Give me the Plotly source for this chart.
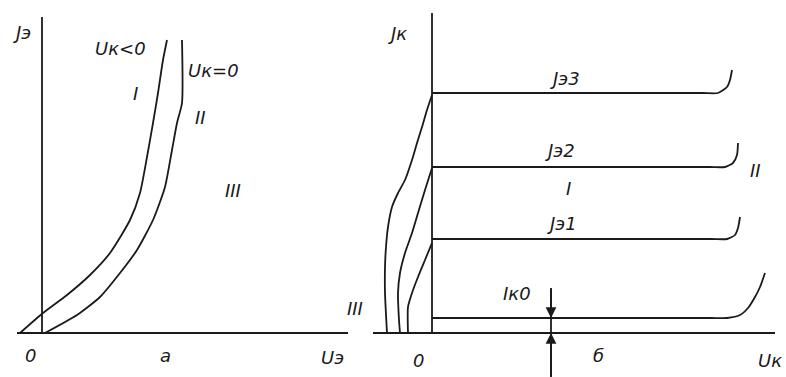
import plotly.graph_objects as go

# ---- Input characteristics Jэ(Uэ), common base ----
ue_uk_neg = [-2.2, 0.1, 2.5, 4.8, 6.8, 8.8, 9.8, 10.5, 11.1, 11.6, 12.1, 12.5]
je_uk_neg = [0.0, 2.0, 3.8, 5.8, 8.0, 11.3, 14.0, 17.6, 21.0, 24.0, 27.3, 29.3]
ue_uk_zero = [0.3, 3.5, 5.8, 7.8, 9.5, 11.1, 12.3, 13.0, 13.5, 14.0, 14.0]
je_uk_zero = [0.0, 1.8, 3.6, 6.0, 8.3, 11.3, 14.6, 18.3, 21.0, 23.0, 29.3]

# ---- Output characteristics Jк(Uк) ----
# active region: flat part from Uк = 0, then breakdown bend
uk_je3 = [0.0, 27.0, 28.6, 29.5, 29.8, 30.0]
jk_je3 = [24.0, 24.0, 24.0, 24.6, 25.3, 26.3]
uk_je2 = [0.0, 27.7, 29.3, 30.1, 30.5, 30.6]
jk_je2 = [16.6, 16.6, 16.6, 17.0, 17.8, 19.0]
uk_je1 = [0.0, 27.9, 29.5, 30.3, 30.6, 30.8]
jk_je1 = [9.4, 9.4, 9.4, 9.8, 10.5, 11.6]
uk_ik0 = [0.0, 27.9, 29.5, 30.8, 31.6, 32.3, 32.8, 33.3]
jk_ik0 = [1.5, 1.5, 1.5, 1.8, 2.5, 3.6, 4.6, 6.0]
# saturation region (Uк < 0)
uk_sat3 = [0.0, -0.5, -1.0, -1.5, -2.0, -2.7, -3.4, -4.0, -4.4, -4.6, -4.7, -4.7, -4.5]
jk_sat3 = [23.8, 22.3, 20.6, 19.0, 17.3, 15.3, 14.0, 12.6, 10.6, 8.6, 6.6, 4.0, 0.0]
uk_sat2 = [0.0, -0.7, -1.4, -2.0, -2.7, -3.2, -3.4, -3.3, -3.2]
jk_sat2 = [16.5, 14.3, 12.0, 10.0, 8.0, 6.0, 4.0, 1.3, 0.0]
uk_sat1 = [0.0, -0.7, -1.4, -2.0, -2.4, -2.4]
jk_sat1 = [9.0, 7.3, 5.6, 4.0, 2.6, 0.0]

# Iк0 marker position
ik0_u = 11.9
ik0_level = 1.5

INK = "#1a1a1a"
LW = 1.8
FONT = dict(family="DejaVu Sans", size=18, color=INK)

fig = go.Figure()


def curve(x, y, xa, ya):
    fig.add_trace(go.Scatter(
        x=x, y=y, mode="lines", xaxis=xa, yaxis=ya,
        line=dict(color=INK, width=LW, shape="spline", smoothing=0.6),
        hoverinfo="skip", showlegend=False))


curve(ue_uk_neg, je_uk_neg, "x", "y")
curve(ue_uk_zero, je_uk_zero, "x", "y")

for ux, jy in [(uk_je3, jk_je3), (uk_je2, jk_je2), (uk_je1, jk_je1), (uk_ik0, jk_ik0)]:
    curve(ux, jy, "x2", "y2")
for ux, jy in [(uk_sat3, jk_sat3), (uk_sat2, jk_sat2), (uk_sat1, jk_sat1)]:
    curve(ux, jy, "x2", "y2")

# coordinate axes drawn as lines through the origin
axis_line = dict(color=INK, width=LW)
shapes = [
    dict(type="line", xref="x", yref="y", x0=0, y0=0, x1=0, y1=31.6, line=axis_line),
    dict(type="line", xref="x", yref="y", x0=-2.5, y0=0, x1=30.6, y1=0, line=axis_line),
    dict(type="line", xref="x2", yref="y2", x0=0, y0=0, x1=0, y1=32.0, line=axis_line),
    dict(type="line", xref="x2", yref="y2", x0=-5.9, y0=0, x1=34.3, y1=0, line=axis_line),
    dict(type="line", xref="x2", yref="y2", x0=ik0_u, y0=4.5, x1=ik0_u, y1=-4.6,
         line=axis_line),
]

labels_left = [
    ("Jэ", -2.0, 30.1), ("Uк<0", 7.8, 28.5), ("Uк=0", 17.1, 26.3),
    ("I", 9.3, 24.0), ("II", 15.8, 21.6), ("III", 19.1, 14.3),
    ("0", -1.2, -2.2), ("а", 12.3, -2.2), ("Uэ", 29.0, -2.4),
]
labels_right = [
    ("Jк", -3.5, 30.0), ("Jэ3", 13.3, 25.5), ("Jэ2", 12.8, 18.3),
    ("I", 13.6, 14.5), ("Jэ1", 13.0, 11.0), ("II", 32.3, 16.3),
    ("III", -7.7, 2.5), ("Iк0", 8.5, 4.0), ("0", -1.4, -2.7),
    ("б", 16.6, -2.2), ("Uк", 33.8, -2.7),
]

annotations = []
for txt, x, y in labels_left:
    annotations.append(dict(text=f"<i>{txt}</i>", x=x, y=y, xref="x", yref="y",
                            showarrow=False, font=FONT))
for txt, x, y in labels_right:
    annotations.append(dict(text=f"<i>{txt}</i>", x=x, y=y, xref="x2", yref="y2",
                            showarrow=False, font=FONT))

# arrowheads marking the Iк0 gap
annotations.append(dict(text="", x=ik0_u, y=ik0_level, ax=ik0_u, ay=4.5,
                        xref="x2", yref="y2", axref="x2", ayref="y2",
                        showarrow=True, arrowhead=2, arrowsize=1.2,
                        arrowwidth=LW, arrowcolor=INK))
annotations.append(dict(text="", x=ik0_u, y=0, ax=ik0_u, ay=-4.5,
                        xref="x2", yref="y2", axref="x2", ayref="y2",
                        showarrow=True, arrowhead=2, arrowsize=1.2,
                        arrowwidth=LW, arrowcolor=INK))

W, H = 786, 377
split = 350
hidden = dict(visible=False, showgrid=False, zeroline=False, fixedrange=True)
fig.update_layout(
    width=W, height=H,
    margin=dict(l=0, r=0, t=0, b=0),
    paper_bgcolor="white", plot_bgcolor="white",
    xaxis=dict(domain=[0, split / W], range=[-4.2, (split - 42) / 10], **hidden),
    yaxis=dict(domain=[0, 1], range=[-4.4, 33.3], **hidden),
    xaxis2=dict(domain=[split / W, 1], range=[(split - 432) / 10, 35.4], anchor="y2", **hidden),
    yaxis2=dict(domain=[0, 1], range=[-4.4, 33.3], anchor="x2", **hidden),
    shapes=shapes,
    annotations=annotations,
)

fig.write_html("out.html")
